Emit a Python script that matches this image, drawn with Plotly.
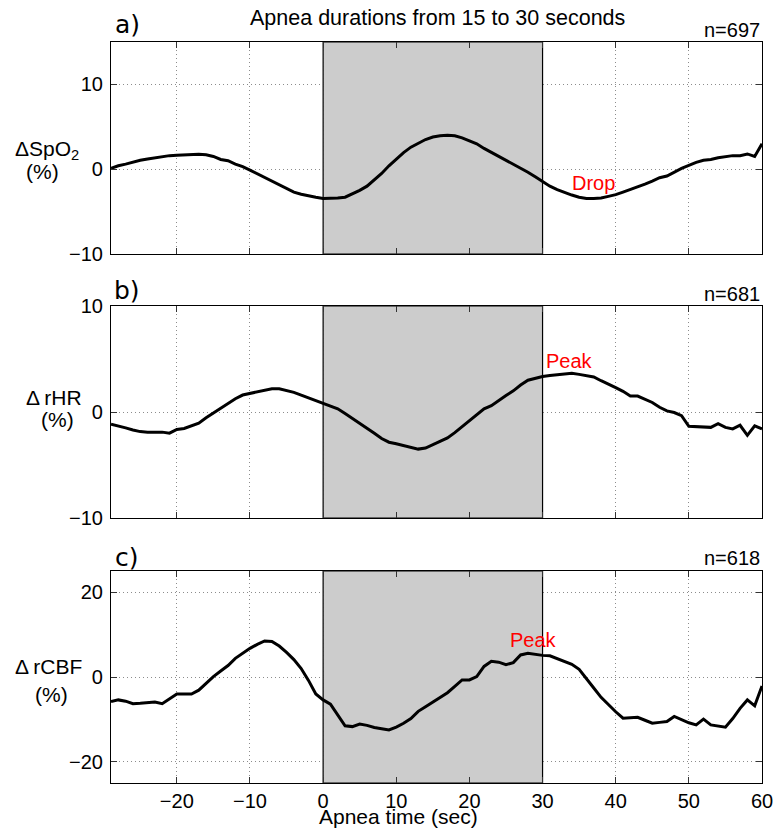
import plotly.graph_objects as go

# Time axis (seconds relative to apnea onset)
time_sec = list(range(-29, 61))

# Panel a: change in SpO2 (%)
d_spo2 = [
    0.1, 0.4, 0.6, 0.85, 1.05, 1.2, 1.35, 1.5, 1.6, 1.65,
    1.7, 1.75, 1.75, 1.7, 1.5, 1.15, 1.0, 0.6, 0.3, -0.1,
    -0.55, -1.0, -1.45, -1.9, -2.35, -2.7, -2.95, -3.15, -3.3, -3.45,
    -3.45, -3.4, -3.3, -2.9, -2.5, -2.0, -1.3, -0.5, 0.4, 1.2,
    1.95, 2.6, 3.1, 3.5, 3.8, 3.95, 4.0, 3.95, 3.7, 3.35,
    3.0, 2.45, 2.0, 1.55, 1.05, 0.6, 0.15, -0.35, -0.9, -1.5,
    -2.0, -2.4, -2.75, -3.05, -3.3, -3.45, -3.45, -3.4, -3.2, -3.0,
    -2.7, -2.4, -2.05, -1.75, -1.4, -1.0, -0.8, -0.3, 0.1, 0.45,
    0.8, 1.05, 1.15, 1.35, 1.45, 1.6, 1.6, 1.8, 1.5, 3.0,
]

# Panel b: change in relative heart rate (%)
d_rhr = [
    -1.15, -1.3, -1.5, -1.7, -1.85, -1.9, -1.9, -1.9, -2.0, -1.65,
    -1.55, -1.3, -1.05, -0.55, -0.1, 0.35, 0.8, 1.25, 1.6, 1.75,
    1.95, 2.1, 2.2, 2.2, 2.05, 1.85, 1.6, 1.35, 1.1, 0.85,
    0.55, 0.3, -0.15, -0.6, -1.05, -1.5, -2.0, -2.5, -2.85, -3.0,
    -3.15, -3.35, -3.5, -3.4, -3.1, -2.75, -2.45, -1.95, -1.4, -0.85,
    -0.3, 0.3, 0.6, 1.1, 1.55, 2.0, 2.55, 3.0, 3.2, 3.35,
    3.45, 3.5, 3.6, 3.65, 3.55, 3.4, 3.3, 2.95, 2.65, 2.3,
    1.95, 1.5, 1.5, 1.2, 0.9, 0.45, 0.1, -0.05, -0.35, -1.35,
    -1.4, -1.45, -1.45, -1.1, -1.45, -1.6, -1.25, -2.2, -1.3, -1.6,
]

# Panel c: change in relative cerebral blood flow (%)
d_rcbf = [
    -5.8, -5.4, -5.7, -6.3, -6.2, -6.0, -5.9, -6.3, -5.2, -4.0,
    -4.0, -4.0, -3.1, -1.4, 0.1, 1.4, 2.7, 4.4, 5.6, 6.75,
    7.7, 8.5, 8.4, 7.3, 5.8, 4.1, 2.0, -0.8, -4.0, -5.4,
    -6.4, -9.1, -11.5, -11.7, -11.1, -11.4, -11.9, -12.2, -12.5, -11.8,
    -10.9, -9.8, -8.1, -7.0, -5.9, -4.6, -3.7, -2.2, -0.7, -0.7,
    0.1, 2.5, 3.7, 3.5, 2.9, 3.4, 5.2, 5.6, 5.3, 5.1,
    5.0, 4.3, 3.6, 3.0, 1.8, -0.3, -2.6, -4.8, -6.6, -8.2,
    -9.7, -9.6, -9.5, -10.2, -10.9, -10.7, -10.5, -9.3, -10.0, -10.8,
    -11.3, -9.95, -11.3, -11.6, -11.85, -9.8, -7.4, -5.4, -6.8, -2.1,
]

x_ticks = [-20, -10, 0, 10, 20, 30, 40, 50, 60]
x_range = [-29, 60]
apnea_window = [0, 30]

panel_series = [d_spo2, d_rhr, d_rcbf]
panel_letters = ["a)", "b)", "c)"]
panel_counts = ["n=697", "n=681", "n=618"]
panel_yranges = [[-10, 15], [-10, 10], [-25, 25]]
panel_yticks = [[-10, 0, 10], [-10, 0, 10], [-20, 0, 20]]
y_label_top = ["ΔSpO<sub>2</sub>", "Δ\u2009rHR", "Δ\u2009rCBF"]
y_label_bottom = ["(%)", "(%)", "(%)"]
marker_texts = ["Drop", "Peak", "Peak"]
marker_pos = [(36.9, -1.6), (33.7, 4.83), (28.7, 8.8)]

W, H = 775, 830
L, R = 111, 13
FONT = "Liberation Sans, Arial, Helvetica, sans-serif"


def px_x(px):
    return (px - L) / (W - L - R)


def px_y(py):
    return 1 - py / H


# panel vertical extents in pixels (top, bottom)
panel_px = [(42, 254), (306, 518), (571, 783)]

fig = go.Figure()
annotations = []

for i, ys in enumerate(panel_series):
    n = i + 1
    xa = "x" if n == 1 else f"x{n}"
    ya = "y" if n == 1 else f"y{n}"
    y0, y1 = panel_yranges[i]
    a0, a1 = apnea_window
    # shaded apnea interval, outlined in black at its start and end
    fig.add_trace(go.Scatter(
        x=[a0, a0, a1, a1, a0], y=[y0, y1, y1, y0, y0],
        mode="lines", fill="toself", fillcolor="#cccccc",
        line=dict(color="black", width=1.2),
        xaxis=xa, yaxis=ya, showlegend=False, hoverinfo="skip",
    ))
    fig.add_trace(go.Scatter(
        x=time_sec, y=ys, mode="lines",
        line=dict(color="black", width=3),
        xaxis=xa, yaxis=ya, showlegend=False, hoverinfo="skip",
    ))
    top, bot = panel_px[i]
    axis_common = dict(
        showline=True, linecolor="black", linewidth=1.2, mirror="ticks",
        ticks="inside", ticklen=6, tickcolor="#333333",
        showgrid=True, gridcolor="#8c8c8c", griddash="1px,3px", gridwidth=1,
        zeroline=False, tickfont=dict(family=FONT, size=20, color="black"),
    )
    fig.layout[f"xaxis{'' if n == 1 else n}"] = dict(
        axis_common, domain=[0, 1], range=x_range, tickvals=x_ticks,
        showticklabels=(n == 3), anchor=ya, ticklabelstandoff=0,
    )
    fig.layout[f"yaxis{'' if n == 1 else n}"] = dict(
        axis_common, domain=[px_y(bot), px_y(top)], range=panel_yranges[i],
        tickvals=panel_yticks[i], anchor=xa, ticklabelstandoff=3,
    )
    # panel letter and sample count
    letter_y = [24, 290, 557][i]
    annotations.append(dict(
        text=panel_letters[i], xref="paper", yref="paper",
        x=px_x(127), y=px_y(letter_y), xanchor="center", yanchor="middle",
        showarrow=False, font=dict(family="DejaVu Sans, sans-serif", size=25, color="black"),
    ))
    count_y = [30, 294, 558][i]
    annotations.append(dict(
        text=panel_counts[i], xref="paper", yref="paper",
        x=1, y=px_y(count_y), xanchor="right", yanchor="middle",
        showarrow=False, font=dict(family=FONT, size=20, color="black"),
    ))
    # y-axis label (two lines)
    lab_top = [(47, 150), (54, 397), (48, 666)][i]
    lab_bot = [(42, 172), (57, 419), (51, 694)][i]
    annotations.append(dict(
        text=y_label_top[i], xref="paper", yref="paper",
        x=px_x(lab_top[0]), y=px_y(lab_top[1]), xanchor="center", yanchor="middle",
        showarrow=False, font=dict(family=FONT, size=21, color="black"),
    ))
    annotations.append(dict(
        text=y_label_bottom[i], xref="paper", yref="paper",
        x=px_x(lab_bot[0]), y=px_y(lab_bot[1]), xanchor="center", yanchor="middle",
        showarrow=False, font=dict(family=FONT, size=21, color="black"),
    ))
    # red event marker text
    annotations.append(dict(
        text=marker_texts[i], xref=xa, yref=ya,
        x=marker_pos[i][0], y=marker_pos[i][1], xanchor="center", yanchor="middle",
        showarrow=False, font=dict(family=FONT, size=20, color="red"),
    ))

annotations.append(dict(
    text="Apnea durations from 15 to 30 seconds", xref="paper", yref="paper",
    x=px_x(437), y=px_y(18), xanchor="center", yanchor="middle",
    showarrow=False, font=dict(family=FONT, size=21.5, color="black"),
))
annotations.append(dict(
    text="Apnea time (sec)", xref="paper", yref="paper",
    x=px_x(398), y=0, xanchor="center", yanchor="bottom",
    showarrow=False, font=dict(family=FONT, size=21, color="black"),
))

fig.update_layout(
    width=W, height=H,
    margin=dict(l=L, r=R, t=0, b=0, autoexpand=False),
    paper_bgcolor="white", plot_bgcolor="white",
    annotations=annotations,
    font=dict(family=FONT, size=20, color="black"),
)

fig.write_html("out.html")
